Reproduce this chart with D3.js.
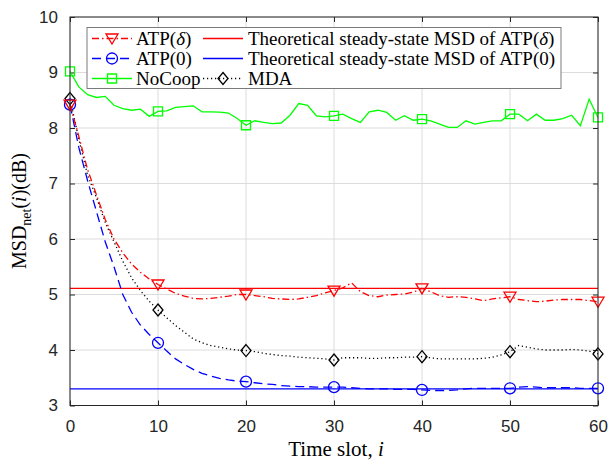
<!DOCTYPE html>
<html><head><meta charset="utf-8">
<script src="https://cdn.jsdelivr.net/npm/d3@7"></script>
<style>body{margin:0;background:#fff}svg{display:block}</style>
</head><body>
<svg id="c" width="610" height="464"></svg>
<script>
const timeSlots = d3.range(0, 61);
const markerSlots = [0, 10, 20, 30, 40, 50, 60];
const xTicks = [0, 10, 20, 30, 40, 50, 60];
const yTicks = [3, 4, 5, 6, 7, 8, 9, 10];

const atpDelta = [8.42,7.85,7.25,6.80,6.35,6.00,5.75,5.55,5.40,5.28,
  5.18,5.10,5.02,4.97,4.93,4.92,4.93,4.95,4.97,5.00,
  5.00,4.98,4.96,4.93,4.92,4.91,4.92,4.95,4.98,5.03,
  5.07,5.12,5.21,5.05,4.98,4.96,4.99,5.00,5.01,5.04,
  5.11,5.05,4.98,4.95,4.96,4.95,4.92,4.89,4.92,4.94,
  4.96,4.91,4.89,4.87,4.88,4.90,4.91,4.91,4.91,4.89,4.87];
const atpZero = [8.42,7.65,7.05,6.50,5.95,5.50,5.00,4.68,4.45,4.28,
  4.13,3.98,3.84,3.74,3.65,3.58,3.53,3.49,3.46,3.44,
  3.43,3.41,3.39,3.38,3.36,3.35,3.34,3.34,3.33,3.33,
  3.33,3.33,3.32,3.31,3.30,3.30,3.30,3.29,3.29,3.29,
  3.28,3.27,3.27,3.27,3.28,3.30,3.31,3.31,3.31,3.31,
  3.31,3.33,3.34,3.33,3.32,3.32,3.32,3.32,3.31,3.31,3.31];
const noCoop = [9.02,8.74,8.60,8.55,8.57,8.41,8.35,8.32,8.34,8.21,
  8.30,8.31,8.37,8.385,8.40,8.29,8.29,8.285,8.27,8.17,
  8.05,8.13,8.10,8.08,8.09,8.23,8.44,8.41,8.22,8.20,
  8.22,8.25,8.17,8.10,8.29,8.32,8.28,8.14,8.22,8.14,
  8.16,8.13,8.07,8.01,8.01,8.13,8.07,8.10,8.13,8.13,
  8.25,8.25,8.13,8.25,8.14,8.14,8.17,8.23,8.04,8.52,8.19];
const mda = [8.53,7.80,7.15,6.75,6.30,5.95,5.60,5.30,5.07,4.88,
  4.72,4.58,4.44,4.32,4.20,4.13,4.08,4.05,4.02,4.00,
  3.99,3.97,3.94,3.92,3.90,3.89,3.87,3.86,3.85,3.84,
  3.82,3.86,3.86,3.86,3.85,3.85,3.86,3.86,3.87,3.87,
  3.88,3.86,3.84,3.84,3.84,3.84,3.84,3.85,3.87,3.91,
  3.97,4.08,4.05,4.02,4.00,4.00,4.00,4.01,4.00,3.98,3.93];
const theoryATPdelta = 5.11;
const theoryATPzero = 3.30;

const legendLabels = ["ATP(δ)", "ATP(0)", "NoCoop", "MDA",
  "Theoretical steady-state MSD of ATP(δ)", "Theoretical steady-state MSD of ATP(0)"];

const svg = d3.select("#c");
const L = 70, R = 598, T = 17, B = 405.5;
const x = d3.scaleLinear().domain([0, 60]).range([L, R]);
const y = d3.scaleLinear().domain([3, 10]).range([B, T]);
const axisColor = "#262626";

// grid
const g = svg.append("g");
g.selectAll(".gx").data(xTicks).enter().append("line")
  .attr("x1", d => x(d)).attr("x2", d => x(d)).attr("y1", T).attr("y2", B)
  .attr("stroke", "#dcdcdc").attr("stroke-width", 1);
g.selectAll(".gy").data(yTicks).enter().append("line")
  .attr("y1", d => y(d)).attr("y2", d => y(d)).attr("x1", L).attr("x2", R)
  .attr("stroke", "#dcdcdc").attr("stroke-width", 1);

// axes (MATLAB style inward ticks on all sides)
const tickFont = "'Liberation Sans', Arial, sans-serif";
const fmt = d3.format("d");
function styleAxis(sel) {
  sel.select(".domain").remove();
  sel.selectAll(".tick line").attr("stroke", axisColor);
  sel.selectAll(".tick text").attr("fill", axisColor).style("font-family", tickFont).style("font-size", "17px");
}
svg.append("g").attr("transform", `translate(0,${B})`)
  .call(d3.axisBottom(x).tickValues(xTicks).tickFormat(fmt).tickSizeInner(-5).tickSizeOuter(0).tickPadding(14))
  .call(styleAxis);
svg.append("g").attr("transform", `translate(0,${T})`)
  .call(d3.axisTop(x).tickValues(xTicks).tickSizeInner(-5).tickSizeOuter(0).tickFormat(""))
  .call(styleAxis);
svg.append("g").attr("transform", `translate(${L},0)`)
  .call(d3.axisLeft(y).tickValues(yTicks).tickFormat(fmt).tickSizeInner(-5).tickSizeOuter(0).tickPadding(12))
  .call(styleAxis);
svg.append("g").attr("transform", `translate(${R},0)`)
  .call(d3.axisRight(y).tickValues(yTicks).tickSizeInner(-5).tickSizeOuter(0).tickFormat(""))
  .call(styleAxis);

// data
const line = d3.line().x((d, i) => x(timeSlots[i])).y(d => y(d));
const plot = svg.append("g");
function drawTheory(v, color) {
  plot.append("line").attr("x1", x(0)).attr("x2", x(60)).attr("y1", y(v)).attr("y2", y(v))
    .attr("stroke", color).attr("stroke-width", 1.3);
}
drawTheory(theoryATPdelta, "#ff0000");
drawTheory(theoryATPzero, "#0000ff");

const series = [
  {data: noCoop, color: "#00ff00", dash: null, marker: "square"},
  {data: mda, color: "#000000", dash: "1.2,2.8", marker: "diamond"},
  {data: atpZero, color: "#0000ff", dash: "9,5", marker: "circle"},
  {data: atpDelta, color: "#ff0000", dash: "7,3,1.5,3", marker: "triangle"}
];

function markerPath(type) {
  if (type === "square") return "M-4.5,-4.5H4.5V4.5H-4.5Z";
  if (type === "diamond") return "M0,-6L5,0L0,6L-5,0Z";
  if (type === "circle") return "M5.5,0A5.5,5.5 0 1,1 -5.5,0A5.5,5.5 0 1,1 5.5,0Z";
  if (type === "triangle") return "M-6,-4.5L6,-4.5L0,5.5Z";
}
function drawMarker(sel, type, color, cx, cy) {
  sel.append("path").attr("d", markerPath(type)).attr("transform", `translate(${cx},${cy})`)
    .attr("fill", "none").attr("stroke", color).attr("stroke-width", 1.3);
}

series.forEach(s => {
  plot.append("path").datum(s.data).attr("d", line).attr("fill", "none")
    .attr("stroke", s.color).attr("stroke-width", 1.3)
    .attr("stroke-dasharray", s.dash);
  markerSlots.forEach(m => drawMarker(plot, s.marker, s.color, x(m), y(s.data[m])));
});

// box
svg.append("rect").attr("x", L).attr("y", T).attr("width", R - L).attr("height", B - T)
  .attr("fill", "none").attr("stroke", axisColor).attr("stroke-width", 1);

// legend
const serif = "'Liberation Serif', 'Times New Roman', serif";
const lg = svg.append("g");
lg.append("rect").attr("x", 87).attr("y", 27.5).attr("width", 474).attr("height", 61)
  .attr("fill", "#fff").attr("stroke", "#7a7a7a").attr("stroke-width", 1);
const rows = [38.5, 58.5, 78.5];
const items = [
  {label: legendLabels[0], color: "#ff0000", dash: "7,3,1.5,3", marker: "triangle", col: 0, row: 0},
  {label: legendLabels[1], color: "#0000ff", dash: "9,5", marker: "circle", col: 0, row: 1},
  {label: legendLabels[2], color: "#00ff00", dash: null, marker: "square", col: 0, row: 2},
  {label: legendLabels[3], color: "#000000", dash: "1.2,2.8", marker: "diamond", col: 1, row: 2},
  {label: legendLabels[4], color: "#ff0000", dash: null, marker: null, col: 1, row: 0},
  {label: legendLabels[5], color: "#0000ff", dash: null, marker: null, col: 1, row: 1}
];
const colX = [{l1: 92, l2: 132, t: 136}, {l1: 203, l2: 243, t: 248}];
items.forEach(it => {
  const c = colX[it.col], yy = rows[it.row];
  lg.append("line").attr("x1", c.l1).attr("x2", c.l2).attr("y1", yy).attr("y2", yy)
    .attr("stroke", it.color).attr("stroke-width", 1.3).attr("stroke-dasharray", it.dash);
  if (it.marker) drawMarker(lg, it.marker, it.color, (c.l1 + c.l2) / 2, yy);
  const t = lg.append("text").attr("x", c.t).attr("y", yy + 6)
    .style("font-family", serif).style("font-size", "19px").attr("fill", "#000");
  const m = it.label.match(/^(.*)\(δ\)$/);
  if (m) {
    t.append("tspan").text(m[1] + "(");
    t.append("tspan").text("δ").style("font-style", "italic");
    t.append("tspan").text(")");
  } else t.text(it.label);
});

// axis labels
const xl = svg.append("text").attr("x", 336).attr("y", 455.5).attr("text-anchor", "middle")
  .style("font-family", serif).style("font-size", "21px").attr("fill", "#000");
xl.append("tspan").text("Time slot, ");
xl.append("tspan").text("i").style("font-style", "italic");

const yl = svg.append("text").attr("transform", "translate(26,211) rotate(-90)")
  .attr("text-anchor", "middle").style("font-family", serif).style("font-size", "20px").attr("fill", "#000");
yl.append("tspan").text("MSD");
yl.append("tspan").text("net").style("font-size", "14px").attr("dy", 5);
yl.append("tspan").text("(").attr("dy", -5);
yl.append("tspan").text("i").style("font-style", "italic");
yl.append("tspan").text(")(dB)");
</script>
</body></html>
